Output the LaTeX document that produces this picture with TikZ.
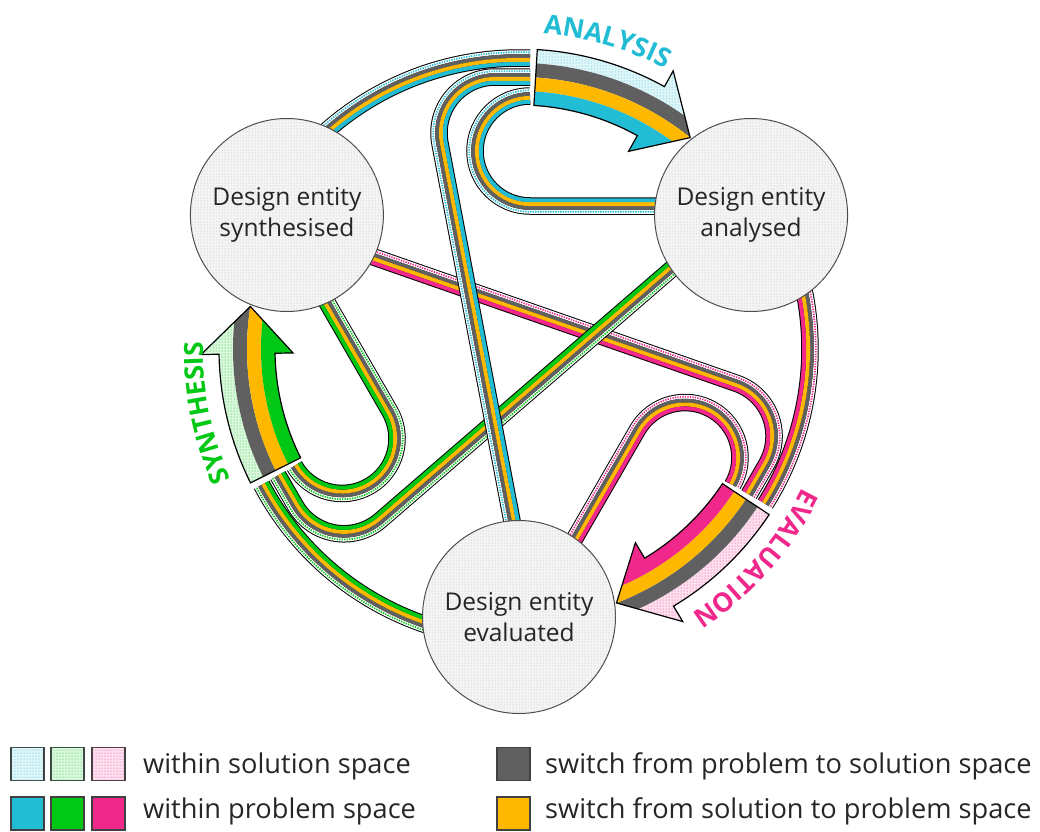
\documentclass[tikz,border=0pt]{standalone}
\usepackage{fontspec}
\setmainfont{Open Sans}
\usetikzlibrary{calc,patterns,decorations.text}

\definecolor{cyanc}{RGB}{34,188,212}
\definecolor{greenc}{RGB}{0,200,20}
\definecolor{pinkc}{RGB}{240,40,140}
\definecolor{orangec}{RGB}{255,184,0}
\definecolor{grayc}{RGB}{96,96,96}

% tube centre lines, offset #1 (positive = outer / dotted side)
\newcommand\TubeOne[1]{(150:{291+(#1)}) arc[start angle=150, end angle=87.83, radius={(291+(#1))*1pt}]}
\newcommand\TubeTwo[1]{($(-24,216)+(190.8:{56+(#1)})+(-79.2:420)$) -- ($(-24,216)+(190.8:{56+(#1)})$) arc[start angle=190.8, end angle=90, radius={(56+(#1))*1pt}] -- (11,{272+(#1)})}
\newcommand\TubeThree[1]{(200,{143-(#1)}) -- (11,{143-(#1)}) arc[start angle=270, end angle=90, radius={(55+(#1))*1pt}]}

\newcommand\DrawTube[2]{%
  \draw[line width=17.5pt, black, line cap=butt] #1{0};
  \draw[line width=3.95pt, white, line cap=butt] #1{5.775};
  \draw[line width=1.7pt, #2, dash pattern=on 1.3pt off 1.2pt] #1{5.775};
  \draw[line width=3.95pt, grayc, line cap=butt] #1{1.925};
  \draw[line width=3.95pt, orangec, line cap=butt] #1{-1.925};
  \draw[line width=3.95pt, #2, line cap=butt] #1{-5.775};
}

\newcommand\ArrowShape{(86.5:300) arc[start angle=86.5, end angle=61, radius=300pt] -- (61:318) -- (51:272) -- (61:226) -- (61:244) arc[start angle=61, end angle=86.5, radius=244pt] -- cycle}
\newcommand\Sector[2]{(92:#1) arc[start angle=92, end angle=45, radius={#1*1pt}] -- (45:#2) arc[start angle=45, end angle=92, radius={#2*1pt}] -- cycle}

\newcommand\DrawArrow[1]{%
  \begin{scope}
    \clip \ArrowShape;
    \fill[#1!14] \Sector{286}{345};
    \fill[pattern=dots, pattern color=#1] \Sector{286}{345};
    \fill[grayc] \Sector{272}{286};
    \fill[orangec] \Sector{258}{272};
    \fill[#1] \Sector{200}{258};
  \end{scope}
  \draw[line width=1.2pt, line join=miter] \ArrowShape;
}

\tikzset{
  ent/.style={circle, minimum size=193pt, inner sep=0pt, draw=black!70, line width=1pt,
    fill=gray!8, postaction={pattern=dots, pattern color=gray!60},
    align=center, font=\fontsize{24.5}{31}\selectfont, text=black!85},
  legsq/.style={rectangle, minimum size=33pt, inner sep=0pt, draw=black!75, line width=1.5pt},
  legtxt/.style={anchor=base west, font=\fontsize{27.2}{27}\selectfont, text=black!85, inner sep=0pt},
  lab/.style={decorate, decoration={text along path, text align=center,
    text={|\fontsize{26.5}{27}\selectfont\bfseries|#1}}}
}

\begin{document}
\begin{tikzpicture}[x=1pt, y=1pt]
\useasboundingbox (-519,-482) rectangle (521,349);

% --- outer arcs, U-turns and arrows of the three processes
\begin{scope}[rotate=-120]
  \DrawTube{\TubeOne}{pinkc}
  \DrawTube{\TubeThree}{pinkc}
  \DrawArrow{pinkc}
\end{scope}
\begin{scope}[rotate=120]
  \DrawTube{\TubeOne}{greenc}
  \DrawTube{\TubeThree}{greenc}
  \DrawArrow{greenc}
\end{scope}
\begin{scope}
  \DrawTube{\TubeOne}{cyanc}
  \DrawTube{\TubeThree}{cyanc}
  \DrawArrow{cyanc}
\end{scope}

% --- long crossing tubes (pink under green under cyan)
\begin{scope}[rotate=-120]
  \DrawTube{\TubeTwo}{pinkc}
\end{scope}
\begin{scope}[rotate=120]
  \DrawTube{\TubeTwo}{greenc}
\end{scope}
\DrawTube{\TubeTwo}{cyanc}

% --- design entities
\node[ent] (syn) at (150:268) {Design entity\\synthesised};
\node[ent] (ana) at (30:268) {Design entity\\analysed};
\node[ent] (eva) at (270:268) {Design entity\\evaluated};

% --- process labels
\path[lab=ANALYSIS, decoration={text color=cyanc}] (89:316) arc[start angle=89, end angle=59, radius=316pt];
\path[lab=SYNTHESIS, decoration={text color=greenc}] (206:316) arc[start angle=206, end angle=177, radius=316pt];
\path[lab=EVALUATION, decoration={text color=pinkc}] (-22:316) arc[start angle=-22, end angle=-61, radius=316pt];

% --- legend
\node[legsq, fill=cyanc!14, postaction={pattern=dots, pattern color=cyanc}] (s1) at (-491.5,-415) {};
\node[legsq, fill=greenc!14, postaction={pattern=dots, pattern color=greenc}] (s2) at (-451.5,-415) {};
\node[legsq, fill=pinkc!14, postaction={pattern=dots, pattern color=pinkc}] (s3) at (-410.5,-415) {};
\node[legsq, fill=cyanc] (p1) at (-491.5,-464.5) {};
\node[legsq, fill=greenc] (p2) at (-451.5,-464.5) {};
\node[legsq, fill=pinkc] (p3) at (-410.5,-464.5) {};
\node[legsq, fill=grayc] (g1) at (-5.5,-415) {};
\node[legsq, fill=orangec] (o1) at (-5.5,-464.5) {};
\node[legtxt] (t1) at (-376,-424) {within solution space};
\node[legtxt] (t2) at (-376,-469) {within problem space};
\node[legtxt] (t3) at (26,-424) {switch from problem to solution space};
\node[legtxt] (t4) at (26,-469) {switch from solution to problem space};
\end{tikzpicture}
\end{document}
